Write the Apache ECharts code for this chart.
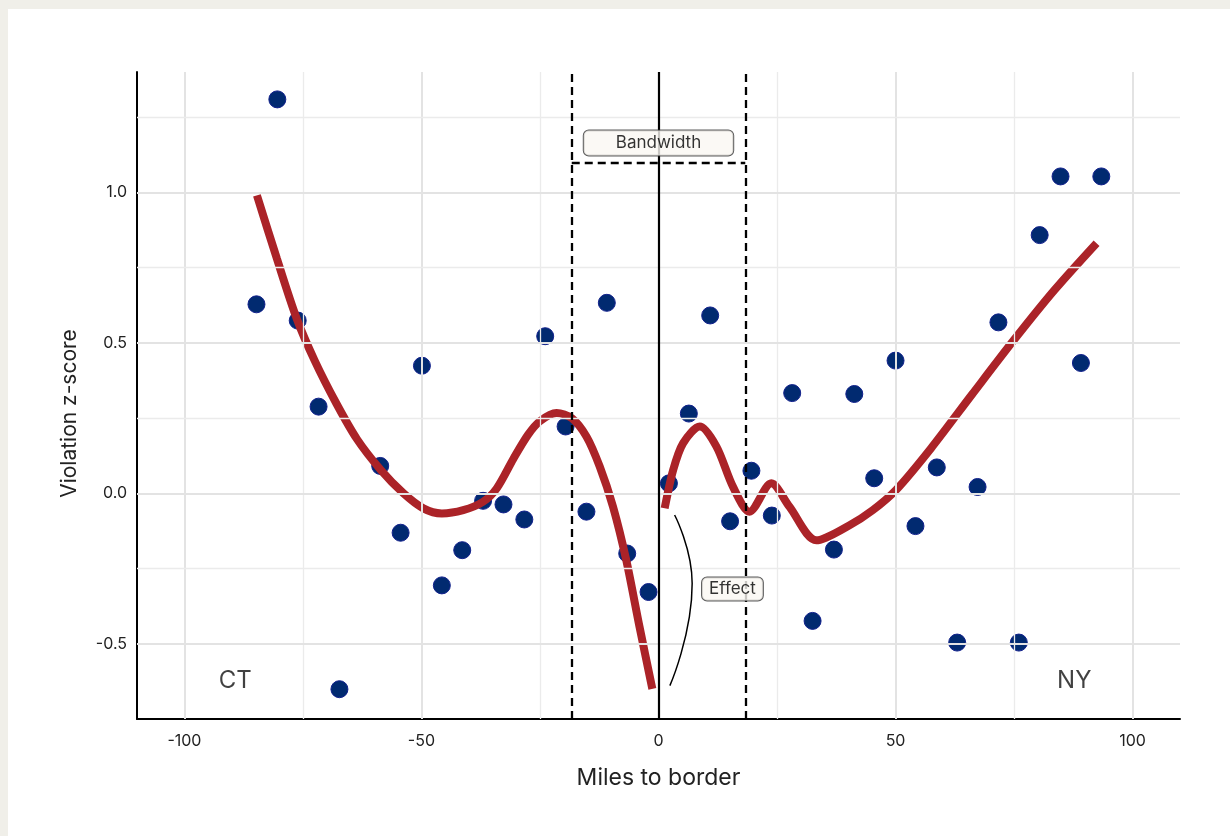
<!DOCTYPE html>
<html>
<head>
<meta charset="utf-8">
<title>Violation z-score by miles to border</title>
<script src="https://cdn.jsdelivr.net/npm/echarts@6/dist/echarts.min.js"></script>
<style>
  html, body { margin: 0; padding: 0; background: #f0efe9; }
  #chart { position: absolute; left: 8px; top: 9px; width: 1222px; height: 827px; background: #ffffff; }
</style>
</head>
<body>
<div id="chart"></div>
<script>
// observed points (miles to border, violation z-score)
const milesToBorder = [-84.8, -80.4, -76.1, -71.7, -67.3, -58.7, -54.4, -49.9, -45.7, -41.4, -37.0, -32.7, -28.3,
  -23.9, -19.6, -15.2, -10.9, -6.6, -2.1, 2.2, 6.4, 10.9, 15.1, 19.6, 23.9, 28.2, 32.5, 37.0, 41.3, 45.5,
  50.0, 54.2, 58.7, 63.0, 67.3, 71.7, 76.0, 80.4, 84.8, 89.1, 93.4];
const violationZ = [0.628, 1.309, 0.574, 0.288, -0.651, 0.091, -0.131, 0.424, -0.306, -0.189, -0.025, -0.037, -0.087,
  0.522, 0.222, -0.061, 0.633, -0.200, -0.328, 0.033, 0.265, 0.591, -0.093, 0.075, -0.074, 0.333, -0.424,
  -0.187, 0.330, 0.050, 0.441, -0.109, 0.086, -0.496, 0.021, 0.568, -0.496, 0.858, 1.053, 0.433, 1.053];

// fitted curves on each side of the border
const fitLeftX = [-84.7, -80.5, -76.3, -72.5, -68.0, -63.6, -58.6, -53.8, -49.6, -45.7, -41.2, -37.0, -34.1,
  -30.6, -27.5, -25.0, -21.5, -18.3, -15.2, -12.4, -9.6, -6.8, -4.0, -1.3];
const fitLeftY = [0.99, 0.78, 0.58, 0.44, 0.30, 0.18, 0.078, 0.0, -0.05, -0.067, -0.056, -0.028, 0.017,
  0.115, 0.195, 0.24, 0.267, 0.25, 0.189, 0.089, -0.044, -0.222, -0.444, -0.65];
const fitRightX = [1.3, 3.1, 5.2, 8.7, 12.2, 15.7, 19.2, 23.8, 27.6, 33.3, 40.3, 45.2, 50.1, 57.5,
  66.2, 75.0, 83.5, 92.4];
const fitRightY = [-0.05, 0.078, 0.167, 0.222, 0.156, 0.022, -0.061, 0.033, -0.044, -0.156, -0.106, -0.056,
  0.011, 0.15, 0.33, 0.51, 0.675, 0.831];

const xGridLines = [-100, -75, -50, -25, 0, 25, 50, 75, 100];
const yGridLines = [-0.5, -0.25, 0, 0.25, 0.5, 0.75, 1.0, 1.25];

const bandwidth = 18.3;
const bracketY = 1.1;

// hand-drawn "Effect" bracket
const effectX = [3.4, 7.1, 2.4];
const effectY = [-0.072, -0.30, -0.639];

const noteText = ['Bandwidth', 'Effect'];
const noteX = [0, 15.6];
const noteY = [1.164, -0.318];
const stateText = ['CT', 'NY'];
const stateX = [-89.3, 87.7];
const stateY = [-0.622, -0.622];

const FONT = 'Inter, "Noto Sans", sans-serif';
const RED = '#ab2328';

function zip(xs, ys) {
  return xs.map((x, i) => [x, ys[i]]);
}

const isMajorX = v => v % 50 === 0;
const isMajorY = v => Math.abs(v * 2 - Math.round(v * 2)) < 1e-6;

const gridLineData = []
  .concat(xGridLines.map(v => ({
    xAxis: v,
    lineStyle: { color: isMajorX(v) ? '#e3e3e3' : '#ebebeb', width: isMajorX(v) ? 2 : 1.3, type: 'solid' }
  })))
  .concat(yGridLines.map(v => ({
    yAxis: v,
    lineStyle: { color: isMajorY(v) ? '#e3e3e3' : '#ebebeb', width: isMajorY(v) ? 2 : 1.3, type: 'solid' }
  })));

const dashed = { color: '#000', width: 2.3, type: [8, 5] };
const refLineData = [
  { xAxis: 0, lineStyle: { color: '#000', width: 2.2, type: 'solid' } },
  { xAxis: -bandwidth, lineStyle: dashed },
  { xAxis: bandwidth, lineStyle: dashed },
  [{ coord: [-bandwidth, bracketY], lineStyle: dashed }, { coord: [bandwidth, bracketY] }]
];

const notePadding = [[4, 32], [3, 7]];

const chart = echarts.init(document.getElementById('chart'));
chart.setOption({
  animation: false,
  textStyle: { fontFamily: FONT },
  grid: { left: 129, right: 50, top: 63, bottom: 117 },
  xAxis: {
    type: 'value',
    min: -110,
    max: 110,
    interval: 10,
    name: 'Miles to border',
    nameLocation: 'middle',
    nameGap: 48,
    nameTextStyle: { fontSize: 23, color: '#222', fontFamily: FONT },
    axisLine: { onZero: false, lineStyle: { color: '#000', width: 2 } },
    axisTick: { show: false },
    splitLine: { show: false },
    axisLabel: {
      interval: 0,
      margin: 14,
      fontSize: 16,
      color: '#222',
      formatter: v => (isMajorX(v) && Math.abs(v) <= 100 ? String(v) : '')
    }
  },
  yAxis: {
    type: 'value',
    min: -0.75,
    max: 1.4,
    interval: 0.25,
    name: 'Violation z-score',
    nameLocation: 'middle',
    nameGap: 57,
    nameTextStyle: { fontSize: 21, color: '#222', fontFamily: FONT, padding: [0, 36, 0, 0] },
    axisLine: { onZero: false, show: true, lineStyle: { color: '#000', width: 2 } },
    axisTick: { show: false },
    splitLine: { show: false },
    axisLabel: {
      margin: 10,
      fontSize: 16,
      color: '#222',
      formatter: v => (isMajorY(v) && v <= 1.0 ? v.toFixed(1) : '')
    }
  },
  series: [
    {
      name: 'grid',
      type: 'line',
      data: [],
      z: 1,
      silent: true,
      markLine: { silent: true, symbol: ['none', 'none'], label: { show: false }, data: gridLineData }
    },
    {
      name: 'reference',
      type: 'line',
      data: [],
      z: 2,
      silent: true,
      markLine: { silent: true, symbol: ['none', 'none'], label: { show: false }, data: refLineData }
    },
    {
      name: 'observed',
      type: 'scatter',
      z: 3,
      symbolSize: 17,
      itemStyle: { color: '#012a70', borderColor: '#11208c', borderWidth: 1, opacity: 1 },
      data: zip(milesToBorder, violationZ)
    },
    {
      name: 'fit CT',
      type: 'line',
      z: 4,
      smooth: 0.3,
      symbol: 'none',
      lineStyle: { color: RED, width: 8, cap: 'butt' },
      data: zip(fitLeftX, fitLeftY)
    },
    {
      name: 'fit NY',
      type: 'line',
      z: 4,
      smooth: 0.3,
      symbol: 'none',
      lineStyle: { color: RED, width: 8, cap: 'butt' },
      data: zip(fitRightX, fitRightY)
    },
    {
      name: 'effect',
      type: 'line',
      z: 5,
      smooth: 0.5,
      symbol: 'none',
      lineStyle: { color: '#000', width: 1.5 },
      data: zip(effectX, effectY)
    },
    {
      name: 'notes',
      type: 'scatter',
      z: 6,
      symbolSize: 1,
      itemStyle: { color: 'rgba(0,0,0,0)' },
      data: noteText.map((t, i) => ({
        name: t,
        value: [noteX[i], noteY[i]],
        label: {
          show: true,
          position: 'inside',
          formatter: '{b}',
          fontSize: 17,
          color: '#000',
          backgroundColor: '#faf7f2',
          borderColor: '#333',
          borderWidth: 1,
          borderRadius: 5,
          padding: notePadding[i]
        }
      }))
    },
    {
      name: 'states',
      type: 'scatter',
      z: 6,
      symbolSize: 1,
      itemStyle: { color: 'rgba(0,0,0,0)' },
      label: { show: true, position: 'inside', formatter: '{b}', fontSize: 24, color: '#111' },
      data: stateText.map((t, i) => ({ name: t, value: [stateX[i], stateY[i]] }))
    }
  ]
});
</script>
</body>
</html>
